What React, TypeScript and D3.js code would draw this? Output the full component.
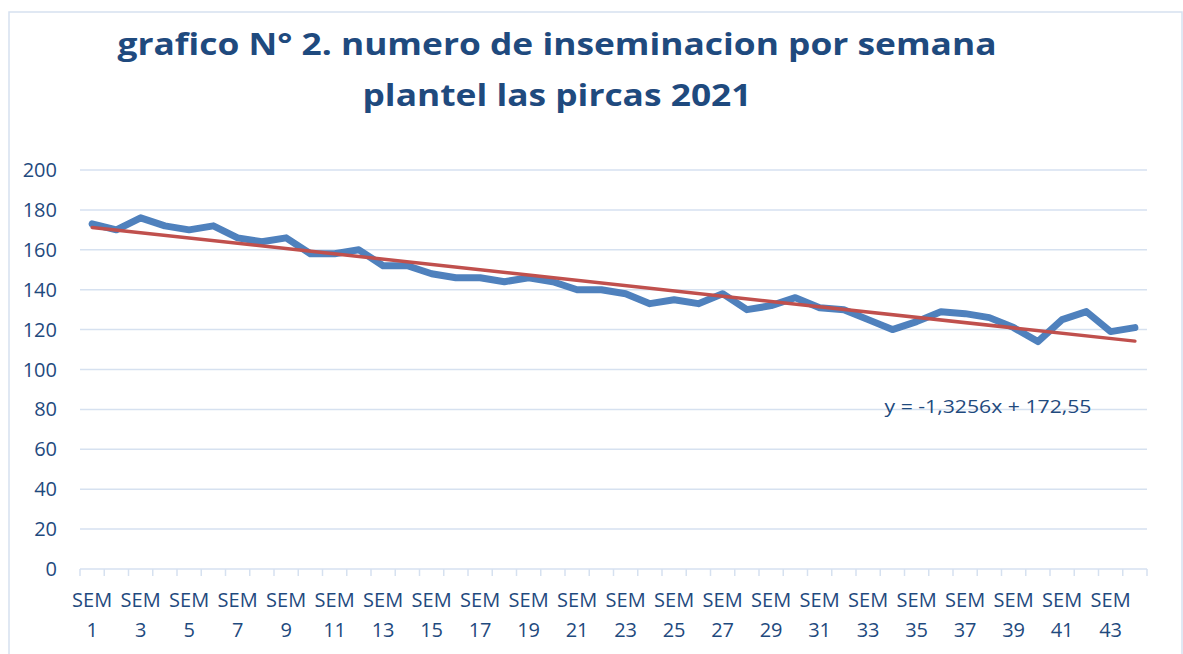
import React from "react";
import * as d3 from "d3";

const weeks: string[] = Array.from({ length: 44 }, (_, i) => `SEM ${i + 1}`);
const inseminations: number[] = [
  173, 170, 176, 172, 170, 172, 166, 164, 166, 158,
  158, 160, 152, 152, 148, 146, 146, 144, 146, 144,
  140, 140, 138, 133, 135, 133, 138, 130, 132, 136,
  131, 130, 125, 120, 124, 129, 128, 126, 121, 114,
  125, 129, 119, 121,
];
const yTicks: number[] = [0, 20, 40, 60, 80, 100, 120, 140, 160, 180, 200];
const titleLines: string[] = [
  "grafico N° 2. numero de inseminacion por semana",
  "plantel las pircas 2021",
];
const equationLabel = "y = -1,3256x + 172,55";

const W = 1183;
const H = 654;
const plot = { left: 80, right: 1147, top: 170, bottom: 569 };
const textColor = "#1f4a7e";
const gridColor = "#d6e1f0";

export default function App() {
  const x = d3.scaleBand<string>().domain(weeks).range([plot.left, plot.right]).padding(0);
  const y = d3.scaleLinear().domain([0, 200]).range([plot.bottom, plot.top]);
  const cx = (i: number) => (x(weeks[i]) as number) + x.bandwidth() / 2;

  const line = d3
    .line<number>()
    .x((_, i) => cx(i))
    .y((d) => y(d));

  // least-squares trend (x = 1..n)
  const n = inseminations.length;
  const xs = inseminations.map((_, i) => i + 1);
  const mx = d3.mean(xs) as number;
  const my = d3.mean(inseminations) as number;
  const slope =
    d3.sum(xs.map((xi, i) => (xi - mx) * (inseminations[i] - my))) /
    d3.sum(xs.map((xi) => (xi - mx) * (xi - mx)));
  const intercept = my - slope * mx;
  const trend = [
    { i: 0, v: intercept + slope * 1 },
    { i: n - 1, v: intercept + slope * n },
  ];

  const boundaries = weeks.map((w) => x(w) as number).concat([plot.right]);

  return (
    <svg
      width={W}
      height={H}
      style={{ position: "absolute", left: 0, top: 0, background: "#fff" }}
      fontFamily="'Open Sans', sans-serif"
    >
      <rect x={9} y={12} width={W - 10} height={H + 20} fill="#fff" stroke={gridColor} strokeWidth={1.5} />
      <text
        x={557}
        y={55}
        textAnchor="middle"
        fontSize={31}
        fontWeight={700}
        fill={textColor}
        textLength={879}
        lengthAdjust="spacingAndGlyphs"
      >
        {titleLines[0]}
      </text>
      <text
        x={557}
        y={106}
        textAnchor="middle"
        fontSize={31}
        fontWeight={700}
        fill={textColor}
        textLength={389}
        lengthAdjust="spacingAndGlyphs"
      >
        {titleLines[1]}
      </text>

      {yTicks.map((t) => (
        <g key={t}>
          <line x1={plot.left} x2={plot.right} y1={y(t)} y2={y(t)} stroke={gridColor} strokeWidth={1.5} />
          <text x={57} y={y(t)} dy="0.35em" textAnchor="end" fontSize={20} fill={textColor}>
            {t}
          </text>
        </g>
      ))}
      {boundaries.map((b, i) => (
        <line key={i} x1={b} x2={b} y1={plot.bottom} y2={plot.bottom + 7} stroke={gridColor} strokeWidth={1.5} />
      ))}

      {weeks.map((w, i) =>
        i % 2 === 0 ? (
          <text key={w} textAnchor="middle" fontSize={20} fill={textColor}>
            <tspan x={cx(i)} y={607}>
              {w.split(" ")[0]}
            </tspan>
            <tspan x={cx(i)} y={637}>
              {w.split(" ")[1]}
            </tspan>
          </text>
        ) : null
      )}

      <path
        d={line(inseminations) as string}
        fill="none"
        stroke="#4f81bd"
        strokeWidth={7}
        strokeLinejoin="round"
        strokeLinecap="round"
      />
      <line
        x1={cx(trend[0].i)}
        y1={y(trend[0].v)}
        x2={cx(trend[1].i)}
        y2={y(trend[1].v)}
        stroke="#c0504d"
        strokeWidth={3.5}
        strokeLinecap="round"
      />
      <text x={988} y={413} textAnchor="middle" fontSize={19} fill={textColor} textLength={207} lengthAdjust="spacingAndGlyphs">
        {equationLabel}
      </text>
    </svg>
  );
}
